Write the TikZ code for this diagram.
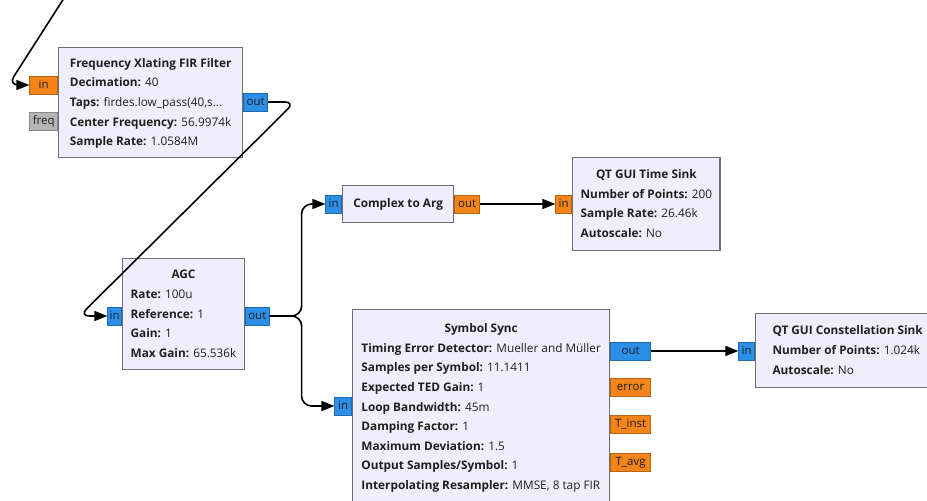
\documentclass[tikz,border=0pt]{standalone}
\usepackage{fontspec}
\setmainfont{Open Sans}
\usetikzlibrary{arrows.meta,calc,positioning}

\definecolor{blkfill}{HTML}{F0EDFD}
\definecolor{blkline}{HTML}{6E6E6E}
\definecolor{cplxport}{HTML}{2B8FE8}
\definecolor{fltport}{HTML}{F2841A}
\definecolor{msgport}{HTML}{B5B5B5}
\newcommand{\prm}[2]{\textbf{#1:} #2}
\newcommand{\ttl}[1]{\multicolumn{1}{@{}c@{}}{\textbf{#1}}}

\begin{document}
\begin{tikzpicture}[x=1pt,y=-1pt,>={Triangle[length=13pt,width=10pt]},
    font=\fontsize{11.8}{19.6}\selectfont]
%
%   ... --> [in]FIR Filter[out] --.
%                                 /
%   .-----------------------------
%   `-> [in]AGC[out] --+--> [in]Complex to Arg[out] --> [in]Time Sink
%                      `--> [in]Symbol Sync[out] -----> [in]Constellation Sink
%
    \tikzstyle{block}=[draw=blkline, line width=1.3pt, fill=blkfill, anchor=north west,
        inner xsep=8pt, inner ysep=0pt, text=black!88]
    \tikzstyle{port}=[line width=0.6pt, inner sep=0pt, minimum height=18pt, text=black!88,
        anchor=east, text height=8pt, text depth=2pt, font=\fontsize{11.5}{14}\selectfont]
    \tikzstyle{cport}=[port, fill=cplxport, draw=cplxport!75!black]
    \tikzstyle{fport}=[port, fill=fltport, draw=fltport!75!black]
    \tikzstyle{mport}=[port, fill=msgport, draw=msgport!75!black]
    \tikzstyle{wire}=[line width=1.6pt, rounded corners=10pt]

    \useasboundingbox (0,0) rectangle (927,501);

    % blocks
    \node[block, minimum width=184, minimum height=110] (fir) at (58,47) {%
        \begin{tabular}{@{}l@{}}\ttl{Frequency Xlating FIR Filter}\\
        \prm{Decimation}{40}\\ \prm{Taps}{firdes.low\_pass(40,s...}\\
        \prm{Center Frequency}{56.9974k}\\ \prm{Sample Rate}{1.0584M}\end{tabular}};
    \node[block, minimum width=121, minimum height=111] (agc) at (122,258) {%
        \begin{tabular}{@{}l@{}}\ttl{AGC}\\ \prm{Rate}{100u}\\ \prm{Reference}{1}\\
        \prm{Gain}{1}\\ \prm{Max Gain}{65.536k}\end{tabular}};
    \node[block, minimum width=111, minimum height=37] (c2a) at (342,185) {\textbf{Complex to Arg}};
    \node[block, minimum width=147, minimum height=93] (tsink) at (572,157) {%
        \begin{tabular}{@{}l@{}}\ttl{QT GUI Time Sink}\\ \prm{Number of Points}{200}\\
        \prm{Sample Rate}{26.46k}\\ \prm{Autoscale}{No}\end{tabular}};
    \node[block, minimum width=257, minimum height=195] (ssync) at (352,309) {%
        \begin{tabular}{@{}l@{}}\ttl{Symbol Sync}\\
        \prm{Timing Error Detector}{Mueller and Müller}\\
        \prm{Samples per Symbol}{11.1411}\\ \prm{Expected TED Gain}{1}\\
        \prm{Loop Bandwidth}{45m}\\ \prm{Damping Factor}{1}\\
        \prm{Maximum Deviation}{1.5}\\ \prm{Output Samples/Symbol}{1}\\
        \prm{Interpolating Resampler}{MMSE, 8 tap FIR}\end{tabular}};
    \node[block, minimum width=184, minimum height=74] (csink) at (755,313) {%
        \begin{tabular}{@{}l@{}}\ttl{QT GUI Constellation Sink}\\
        \prm{Number of Points}{1.024k}\\ \prm{Autoscale}{No}\end{tabular}};

    % ports
    \node[fport, minimum width=28] (firin) at ([yshift=-38pt]fir.north west) {in};
    \node[mport, minimum width=28] (firfreq) at ([yshift=-74pt]fir.north west) {freq};
    \node[cport, minimum width=24, anchor=west] (firout) at ([yshift=-55pt]fir.north east) {out};
    \node[cport, minimum width=14] (agcin) at ([yshift=-58pt]agc.north west) {in};
    \node[cport, minimum width=24, anchor=west] (agcout) at ([yshift=-58pt]agc.north east) {out};
    \node[cport, minimum width=16] (c2ain) at ([yshift=-19pt]c2a.north west) {in};
    \node[fport, minimum width=25, anchor=west] (c2aout) at ([yshift=-19pt]c2a.north east) {out};
    \node[fport, minimum width=16] (tsinkin) at ([yshift=-47pt]tsink.north west) {in};
    \node[cport, minimum width=17] (ssyncin) at ([yshift=-97pt]ssync.north west) {in};
    \node[cport, minimum width=40, anchor=west] (ssyncout) at ([yshift=-42pt]ssync.north east) {out};
    \node[fport, minimum width=40, anchor=west] (ssyncerr) at ([yshift=-78.5pt]ssync.north east) {error};
    \node[fport, minimum width=40, anchor=west] (ssyncinst) at ([yshift=-115.5pt]ssync.north east) {T\_inst};
    \node[fport, minimum width=40, anchor=west] (ssyncavg) at ([yshift=-153pt]ssync.north east) {T\_avg};
    \node[cport, minimum width=16] (csinkin) at ([yshift=-38pt]csink.north west) {in};

    % connections
    \coordinate (src) at (66,-5);
    \draw[wire,->] (src) -- ($(firin.west)+(-21,0)$) -- (firin.west);
    \draw[wire,->] (firout.east) -- ++(27,0) -- ($(agcin.west)+(-28,0)$) -- (agcin.west);
    \draw[wire,->] (agcout.east) -- ++(32,0) |- (c2ain.west);
    \draw[wire,->] (agcout.east) -- ++(32,0) |- (ssyncin.west);
    \draw[wire,->] (c2aout.east) -- (tsinkin.west);
    \draw[wire,->] (ssyncout.east) -- (csinkin.west);
\end{tikzpicture}
\end{document}
